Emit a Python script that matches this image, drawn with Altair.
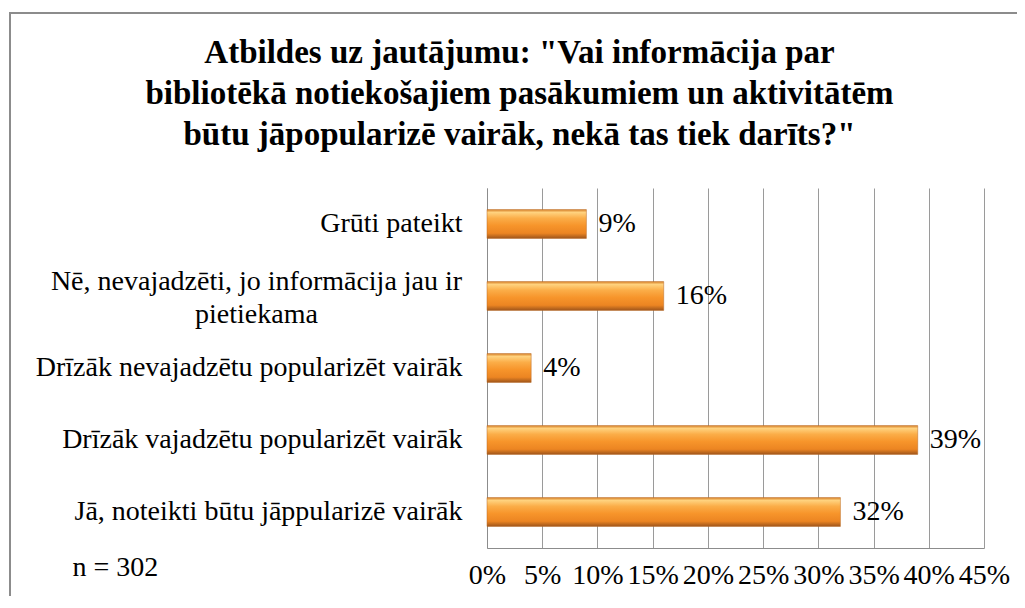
import altair as alt
import pandas as pd

categories = [
    "Grūti pateikt",
    "Nē, nevajadzēti, jo informācija jau ir|pietiekama",
    "Drīzāk nevajadzētu popularizēt vairāk",
    "Drīzāk vajadzētu popularizēt vairāk",
    "Jā, noteikti būtu jāppularizē vairāk",
]
values = [0.09, 0.16, 0.04, 0.39, 0.32]
x_ticks = [0, 0.05, 0.10, 0.15, 0.20, 0.25, 0.30, 0.35, 0.40, 0.45]
title_lines = [
    'Atbildes uz jautājumu: "Vai informācija par',
    "bibliotēkā notiekošajiem pasākumiem un aktivitātēm",
    'būtu jāpopularizē vairāk, nekā tas tiek darīts?"',
]
note = "n = 302"

df = pd.DataFrame({"cat": categories, "val": values})

FONT = "Liberation Serif"
W, H = 497, 360
MULTI = "indexof(datum.value, '|') >= 0"

grad = alt.Gradient(
    gradient="linear",
    x1=0, x2=0, y1=0, y2=1,
    stops=[
        alt.GradientStop(color="#d9822b", offset=0.0),
        alt.GradientStop(color="#ffd27e", offset=0.1),
        alt.GradientStop(color="#fbad48", offset=0.3),
        alt.GradientStop(color="#f7952b", offset=0.55),
        alt.GradientStop(color="#ec8522", offset=0.82),
        alt.GradientStop(color="#9e551b", offset=1.0),
    ],
)

y_enc = alt.Y(
    "cat:N",
    sort=categories,
    scale=alt.Scale(paddingInner=0.6, paddingOuter=0.3),
    axis=alt.Axis(
        title=note,
        titleAngle=0,
        titleX=-415,
        titleY=379,
        titleAlign="left",
        titleBaseline="middle",
        titleFont=FONT,
        titleFontSize=28,
        titleFontWeight="normal",
        titleColor="black",
        labelExpr="split(datum.label, '|')",
        labelFont=FONT,
        labelFontSize=28,
        labelColor="black",
        labelLineHeight=33,
        labelAlign=alt.ConditionalAxisLabelAlign(
            condition={"test": MULTI, "value": "center"},
            value="right",
        ),
        labelPadding=alt.ConditionalAxisNumber(
            condition={"test": MULTI, "value": 231},
            value=25,
        ),
        labelOffset=alt.ConditionalAxisNumber(
            condition={"test": MULTI, "value": -14},
            value=0,
        ),
        labelLimit=600,
        tickSize=0,
        domainColor="#8c8c8c",
        domainWidth=1,
        grid=False,
    ),
)

x_enc = alt.X(
    "val:Q",
    scale=alt.Scale(domain=[0, 0.45], nice=False),
    axis=alt.Axis(
        values=x_ticks,
        format=".0%",
        title=None,
        labelFont=FONT,
        labelFontSize=28,
        labelColor="black",
        labelPadding=13,
        labelFlush=False,
        labelOverlap=False,
        tickSize=0,
        domainColor="#8c8c8c",
        gridColor="#9a9a9a",
        gridWidth=1,
        grid=True,
    ),
)

frame = alt.Chart(df).mark_rect(
    fillOpacity=0, fill="white", stroke="#8c8c8c", strokeWidth=2
).encode(
    x=alt.value(-477), x2=alt.value(560), y=alt.value(-175), y2=alt.value(440)
).transform_filter("datum.cat == 'Grūti pateikt'")

bars = alt.Chart(df).mark_bar(
    color=grad, stroke="#b86a26", strokeWidth=0.5
).encode(x=x_enc, y=y_enc)

labels = alt.Chart(df).mark_text(
    align="left", baseline="middle", dx=12, font=FONT, fontSize=28, color="black"
).encode(
    x="val:Q",
    y=alt.Y("cat:N", sort=categories),
    text=alt.Text("val:Q", format=".0%"),
)

chart = alt.layer(frame, bars, labels).properties(
    width=W,
    height=H,
    autosize=alt.AutoSizeParams(type="none"),
    padding={"left": 479, "top": 180, "right": 33, "bottom": 48},
    title=alt.TitleParams(
        text=title_lines,
        font=FONT,
        fontSize=33,
        fontWeight="bold",
        color="black",
        anchor="middle",
        frame="group",
        dx=-216,
        offset=-140,
        lineHeight=41,
    ),
).configure_view(stroke=None)

chart.save("out.html", embed_options={"renderer": "svg", "actions": False})
